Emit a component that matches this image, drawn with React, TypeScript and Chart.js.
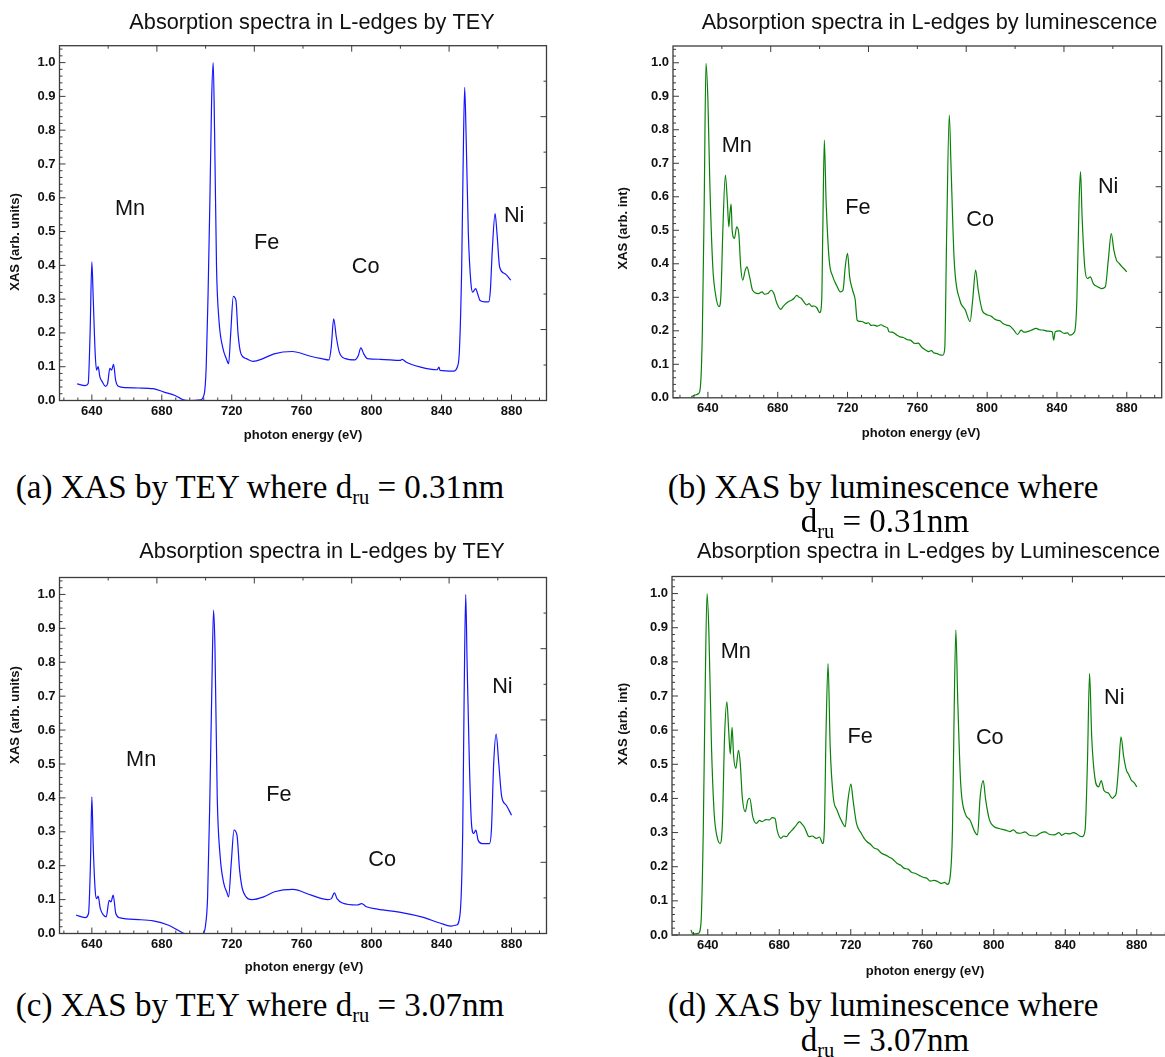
import React, { useEffect, useRef } from "react";
import { Chart, registerables } from "chart.js";

Chart.register(...registerables);

// ---------------- data ----------------
// (a) TEY, d_ru = 0.31 nm
const teyThinEnergy = [631.6, 636.2, 637.9, 639, 640, 640.8, 641.9, 642.7, 643.6, 644.6, 646, 647.8, 649, 650.3, 651.3, 652.4, 653.6, 655.1, 659.3, 666.6, 675, 681.3, 687.6, 691.8, 696, 702.2, 704.3, 705.4, 706.4, 707.5, 708.5, 709.4, 710.2, 711.3, 712.7, 714.8, 716.9, 718.2, 719.4, 720.9, 722.4, 723.6, 725.3, 728.4, 732.2, 737.9, 744.2, 754.6, 765.1, 771.4, 775.6, 776.9, 778.3, 779.8, 781.5, 785, 790.3, 792.4, 793.8, 795.5, 797.6, 805, 816.5, 817.5, 819.6, 828, 837.4, 838.5, 839.1, 846.9, 849, 850.2, 851.5, 852.3, 853.2, 854, 855.3, 856.8, 857.8, 859.5, 860.6, 862, 864.8, 866.9, 867.9, 869, 870.6, 871.7, 873.2, 876.3, 879.6];
const teyThinXAS = [0.049, 0.044, 0.05, 0.2, 0.41, 0.3, 0.14, 0.09, 0.1, 0.07, 0.055, 0.042, 0.05, 0.095, 0.09, 0.107, 0.06, 0.042, 0.038, 0.037, 0.035, 0.025, 0.015, 0.003, 0, 0.002, 0.02, 0.1, 0.3, 0.59, 0.89, 1.0, 0.79, 0.395, 0.237, 0.158, 0.124, 0.109, 0.198, 0.308, 0.296, 0.198, 0.138, 0.124, 0.116, 0.124, 0.138, 0.145, 0.131, 0.124, 0.12, 0.158, 0.242, 0.188, 0.143, 0.124, 0.12, 0.133, 0.156, 0.138, 0.124, 0.122, 0.119, 0.122, 0.114, 0.099, 0.091, 0.099, 0.089, 0.087, 0.099, 0.148, 0.395, 0.69, 0.927, 0.79, 0.494, 0.346, 0.321, 0.331, 0.316, 0.296, 0.292, 0.292, 0.326, 0.445, 0.553, 0.494, 0.395, 0.375, 0.356];

// (b) luminescence, d_ru = 0.31 nm
const lumThinEnergy = [630.4, 632.5, 634.7, 635.7, 636.8, 637.9, 638.9, 640, 641.1, 642.8, 644.3, 646.4, 647.5, 648.5, 650, 651.1, 652, 652.6, 653.3, 653.9, 655.2, 656.5, 657.7, 658.8, 659.9, 661.4, 662.4, 663.9, 665.6, 668.9, 671, 672.5, 674.2, 676.3, 677.8, 679.5, 681.7, 683, 684.9, 686.5, 688.1, 689.5, 690.9, 692, 693.4, 695, 696.6, 698, 699.5, 700.9, 702.5, 704.1, 705.2, 705.8, 706.7, 707.7, 709.5, 711.6, 713.7, 715.9, 717.4, 718.7, 720, 721.2, 722.9, 724.4, 725.5, 727, 728.7, 730.5, 732, 733.5, 735.1, 737, 739, 741.5, 743, 743.7, 745.5, 747.5, 750.1, 752, 754, 756, 758.6, 760.5, 762.5, 765, 766.5, 768, 769.5, 771.4, 773, 774.6, 775.7, 776.8, 778.3, 779.3, 781.1, 784.3, 787.5, 790.2, 791.7, 793.4, 794.9, 797.1, 799, 800.3, 802.5, 804, 805.6, 807.5, 809, 811, 813, 815.3, 817.4, 819.5, 821, 822.7, 825, 828.1, 830, 832.3, 834.5, 837.3, 838.1, 839, 841.5, 844.1, 846, 847.3, 850.1, 851.4, 852.7, 853.5, 854.4, 855.9, 857.4, 859.1, 860.8, 863.4, 865.5, 867.7, 869.4, 871.1, 872.6, 874.1, 875.5, 877.3, 878.8, 880];
const lumThinXAS = [0.003, 0.008, 0.013, 0.033, 0.192, 0.59, 0.998, 0.889, 0.64, 0.391, 0.311, 0.272, 0.311, 0.49, 0.665, 0.59, 0.51, 0.55, 0.578, 0.5, 0.476, 0.51, 0.49, 0.391, 0.351, 0.381, 0.391, 0.361, 0.321, 0.311, 0.316, 0.309, 0.311, 0.321, 0.311, 0.282, 0.264, 0.272, 0.282, 0.288, 0.292, 0.298, 0.306, 0.301, 0.297, 0.286, 0.277, 0.281, 0.273, 0.274, 0.268, 0.254, 0.292, 0.49, 0.769, 0.59, 0.411, 0.361, 0.336, 0.316, 0.321, 0.391, 0.431, 0.361, 0.321, 0.292, 0.232, 0.228, 0.227, 0.222, 0.224, 0.216, 0.217, 0.214, 0.218, 0.212, 0.208, 0.197, 0.196, 0.19, 0.182, 0.18, 0.174, 0.172, 0.162, 0.163, 0.151, 0.142, 0.138, 0.141, 0.134, 0.132, 0.128, 0.127, 0.147, 0.49, 0.844, 0.69, 0.411, 0.292, 0.262, 0.227, 0.292, 0.381, 0.321, 0.262, 0.25, 0.247, 0.243, 0.236, 0.232, 0.229, 0.222, 0.217, 0.214, 0.202, 0.189, 0.202, 0.196, 0.197, 0.201, 0.207, 0.203, 0.202, 0.199, 0.197, 0.172, 0.197, 0.2, 0.192, 0.194, 0.187, 0.197, 0.292, 0.59, 0.675, 0.54, 0.391, 0.356, 0.361, 0.341, 0.331, 0.326, 0.331, 0.411, 0.49, 0.441, 0.411, 0.402, 0.391, 0.383, 0.376];

// (c) TEY, d_ru = 3.07 nm
const teyThickEnergy = [631, 636.2, 638.1, 639.2, 640, 640.8, 641.9, 642.7, 643.6, 644.8, 646.7, 648.2, 649.9, 650.9, 652.2, 653.7, 656.2, 666.7, 675.1, 683.5, 689.8, 693, 703.5, 704.9, 706.2, 707.5, 708.7, 709.6, 710.4, 711.7, 713.4, 715.5, 717.1, 718.2, 719.7, 721.3, 723, 724.5, 726.6, 731.8, 738.2, 744.5, 755, 765.5, 775, 777, 778.7, 780.2, 783.3, 791.7, 794.3, 797, 803.3, 818, 828.5, 839, 845.3, 848.5, 850.6, 852.1, 852.9, 853.8, 854.6, 855.9, 857.1, 858.4, 859.6, 860.9, 863.2, 867.4, 868.5, 869.8, 871.2, 872.7, 874.4, 876.9, 880];
const teyThickXAS = [0.054, 0.047, 0.059, 0.206, 0.403, 0.256, 0.128, 0.103, 0.11, 0.074, 0.054, 0.049, 0.098, 0.093, 0.113, 0.059, 0.046, 0.041, 0.037, 0.025, 0.008, 0, 0, 0.02, 0.108, 0.403, 0.747, 0.954, 0.846, 0.403, 0.226, 0.147, 0.123, 0.108, 0.206, 0.305, 0.29, 0.187, 0.123, 0.1, 0.108, 0.123, 0.13, 0.113, 0.1, 0.103, 0.12, 0.103, 0.09, 0.084, 0.088, 0.079, 0.072, 0.061, 0.049, 0.031, 0.022, 0.025, 0.059, 0.305, 0.698, 1.0, 0.797, 0.502, 0.324, 0.295, 0.305, 0.275, 0.265, 0.265, 0.305, 0.502, 0.588, 0.502, 0.403, 0.379, 0.349];

// (d) luminescence, d_ru = 3.07 nm
const lumThickEnergy = [630.6, 631.6, 634.8, 636.2, 637.5, 638.5, 639.6, 640.6, 642.1, 643.6, 645.2, 646.9, 648.2, 649.4, 650.7, 651.7, 652.6, 653.6, 654.5, 655.7, 657.2, 658.2, 659.3, 661, 662.4, 663.5, 665.2, 667.2, 669, 670.4, 672.5, 674.6, 676, 677.7, 678.8, 680.9, 682.5, 684, 685.5, 687.2, 689, 691.4, 692.5, 693.9, 695, 696.6, 698.5, 700.8, 702.5, 704.3, 705.2, 706.2, 707.3, 708.5, 710.2, 712.3, 715.5, 716.9, 718.2, 720.1, 721.3, 723.2, 725.9, 727.5, 729.1, 731, 733.3, 735, 737, 739.6, 741.5, 743.5, 745.8, 748, 750, 752, 754, 756.3, 758.5, 760.5, 762.6, 764.5, 766.5, 768.9, 770.5, 772.5, 774.1, 775.6, 776.9, 777.7, 778.8, 779.8, 781.5, 784, 786.7, 789.4, 790.9, 792.4, 794.1, 795.5, 797.6, 800.3, 803, 806.6, 809, 811, 813, 815, 817.5, 820, 823.4, 826, 828.6, 831, 833.9, 836.5, 838, 840.2, 842.5, 844.5, 846.5, 848, 849.6, 851.1, 852.4, 853.6, 854.8, 856.5, 858.6, 860.1, 861.6, 863, 864.3, 865.5, 866.4, 867.5, 868.5, 870, 871.2, 872.7, 874.2, 875.5, 876.9, 878.5, 880];
const lumThickXAS = [0.015, 0.003, 0.005, 0.034, 0.307, 0.698, 1.0, 0.893, 0.551, 0.356, 0.288, 0.268, 0.327, 0.58, 0.683, 0.6, 0.53, 0.608, 0.522, 0.488, 0.541, 0.502, 0.405, 0.361, 0.395, 0.4, 0.346, 0.327, 0.336, 0.332, 0.338, 0.337, 0.344, 0.341, 0.307, 0.283, 0.29, 0.288, 0.298, 0.307, 0.318, 0.332, 0.326, 0.317, 0.305, 0.288, 0.29, 0.283, 0.287, 0.268, 0.307, 0.6, 0.795, 0.551, 0.405, 0.366, 0.327, 0.317, 0.385, 0.442, 0.395, 0.327, 0.298, 0.283, 0.273, 0.266, 0.254, 0.251, 0.24, 0.234, 0.228, 0.222, 0.21, 0.204, 0.195, 0.193, 0.184, 0.18, 0.174, 0.169, 0.166, 0.158, 0.16, 0.156, 0.151, 0.154, 0.148, 0.171, 0.307, 0.6, 0.893, 0.698, 0.444, 0.356, 0.337, 0.302, 0.293, 0.405, 0.452, 0.395, 0.337, 0.317, 0.312, 0.307, 0.303, 0.308, 0.299, 0.298, 0.302, 0.292, 0.29, 0.298, 0.302, 0.295, 0.293, 0.3, 0.292, 0.298, 0.296, 0.3, 0.296, 0.29, 0.288, 0.307, 0.502, 0.766, 0.58, 0.463, 0.434, 0.452, 0.424, 0.418, 0.415, 0.405, 0.4, 0.406, 0.415, 0.502, 0.58, 0.522, 0.483, 0.47, 0.454, 0.446, 0.434];

// tick labels and text
const xTickValues = [640, 680, 720, 760, 800, 840, 880];
const yTickValues = [0, 0.1, 0.2, 0.3, 0.4, 0.5, 0.6, 0.7, 0.8, 0.9, 1.0];
const elementNames = ["Mn", "Fe", "Co", "Ni"];
const xAxisTitle = "photon energy (eV)";

// ---------------- panel layout / style ----------------
const SANS = '"Liberation Sans", Arial, Helvetica, sans-serif';
const SERIF = '"Liberation Serif", "Times New Roman", Times, serif';
const FRAME = "#3c3c3c";
const TEXT = "#111111";

interface PanelSpec {
  left: number; top: number; w: number; h: number;
  plotL: number; plotT: number; plotR: number; plotB: number;
  xMin: number; xMax: number;
  energy: number[]; xas: number[]; color: string;
  title: string; titleX: number; titleY: number;
  yTitle: string; yTitleX: number; yTitleY: number;
  xTitleX: number; xTitleY: number;
  labelPos: [number, number][];
}

const PANELS: PanelSpec[] = [
  {
    left: 0, top: 0, w: 580, h: 450,
    plotL: 59.5, plotT: 45.7, plotR: 546.5, plotB: 400.5,
    xMin: 621.5, xMax: 900,
    energy: teyThinEnergy, xas: teyThinXAS, color: "#1414ff",
    title: "Absorption spectra in L-edges by TEY", titleX: 312, titleY: 23,
    yTitle: "XAS (arb. units)", yTitleX: 15.5, yTitleY: 242,
    xTitleX: 303, xTitleY: 435,
    labelPos: [[661.8, 0.566], [740, 0.466], [796.6, 0.395], [881.5, 0.545]],
  },
  {
    left: 580, top: 0, w: 585, h: 450,
    plotL: 93, plotT: 46, plotR: 581.7, plotB: 397.8,
    xMin: 620, xMax: 900,
    energy: lumThinEnergy, xas: lumThinXAS, color: "#0a820a",
    title: "Absorption spectra in L-edges by luminescence", titleX: 929.5, titleY: 23,
    yTitle: "XAS (arb. int)", yTitleX: 623.3, yTitleY: 228.3,
    xTitleX: 921, xTitleY: 433,
    labelPos: [[656.5, 0.752], [725.9, 0.565], [796, 0.53], [869.3, 0.63]],
  },
  {
    left: 0, top: 530, w: 580, h: 450,
    plotL: 59.5, plotT: 47.5, plotR: 546.5, plotB: 403.5,
    xMin: 621.5, xMax: 900,
    energy: teyThickEnergy, xas: teyThickXAS, color: "#1414ff",
    title: "Absorption spectra in L-edges by TEY", titleX: 322, titleY: 551.7,
    yTitle: "XAS (arb. units)", yTitleX: 15.5, yTitleY: 715,
    xTitleX: 304, xTitleY: 967.3,
    labelPos: [[668.2, 0.511], [747, 0.408], [806, 0.216], [874.8, 0.728]],
  },
  {
    left: 580, top: 530, w: 600, h: 450,
    plotL: 92, plotT: 46.5, plotR: 592.5, plotB: 405,
    xMin: 620, xMax: 900,
    energy: lumThickEnergy, xas: lumThickXAS, color: "#0a820a",
    title: "Absorption spectra in L-edges by Luminescence", titleX: 928.5, titleY: 551.7,
    yTitle: "XAS (arb. int)", yTitleX: 623.3, yTitleY: 724,
    xTitleX: 925, xTitleY: 971,
    labelPos: [[655.7, 0.829], [725.3, 0.579], [797.8, 0.576], [867.4, 0.693]],
  },
];

function makeDecor(spec: PanelSpec) {
  return {
    id: "decor",
    afterDraw(chart: any) {
      const ctx: CanvasRenderingContext2D = chart.ctx;
      const a = chart.chartArea;
      const sx = chart.scales.x, sy = chart.scales.y, sx2 = chart.scales.x2, sy2 = chart.scales.y2;
      const seg = (x1: number, y1: number, x2: number, y2: number) => {
        ctx.beginPath(); ctx.moveTo(x1, y1); ctx.lineTo(x2, y2); ctx.stroke();
      };
      ctx.save();
      ctx.strokeStyle = FRAME;
      ctx.lineWidth = 1.3;
      ctx.strokeRect(a.left, a.top, a.right - a.left, a.bottom - a.top);
      ctx.lineWidth = 1;
      // bottom: major every 40 eV, minor every 8 eV
      for (let k = Math.ceil((spec.xMin - 640) / 8); 640 + 8 * k <= spec.xMax; k++) {
        const px = sx.getPixelForValue(640 + 8 * k);
        const len = k % 5 === 0 ? 6 : 3;
        seg(px, a.bottom, px, a.bottom - len);
      }
      // left: major every 0.1, minor every 0.02
      for (let k = 0; k * 0.02 <= 1.05 + 1e-9; k++) {
        const py = sy.getPixelForValue(k * 0.02);
        const len = k % 5 === 0 ? 6 : 3;
        seg(a.left, py, a.left + len, py);
      }
      // top and right (secondary frame scales)
      for (let k = 1; k < 10; k++) {
        const len = k % 2 === 0 ? 6 : 3;
        const px = sx2.getPixelForValue(k / 10);
        seg(px, a.top, px, a.top + len);
        const py = sy2.getPixelForValue(k / 10);
        seg(a.right, py, a.right - len, py);
      }
      // texts
      ctx.fillStyle = TEXT;
      ctx.textAlign = "center";
      ctx.textBaseline = "middle";
      ctx.font = `21.7px ${SANS}`;
      ctx.fillText(spec.title, spec.titleX - spec.left, spec.titleY - spec.top);
      elementNames.forEach((name, i) => {
        const [ex, ey] = spec.labelPos[i];
        ctx.fillText(name, sx.getPixelForValue(ex), sy.getPixelForValue(ey));
      });
      ctx.font = `bold 13px ${SANS}`;
      ctx.fillText(xAxisTitle, spec.xTitleX - spec.left, spec.xTitleY - spec.top);
      ctx.translate(spec.yTitleX - spec.left, spec.yTitleY - spec.top);
      ctx.rotate(-Math.PI / 2);
      ctx.fillText(spec.yTitle, 0, 0);
      ctx.restore();
    },
  };
}

function Panel({ spec }: { spec: PanelSpec }) {
  const ref = useRef<HTMLCanvasElement | null>(null);
  useEffect(() => {
    if (!ref.current) return;
    const bottomAxisH = 30;
    const chart = new Chart(ref.current, {
      type: "line",
      data: {
        datasets: [
          {
            data: spec.energy.map((e, i) => ({ x: e, y: spec.xas[i] })),
            borderColor: spec.color,
            borderWidth: 1.2,
            pointRadius: 0,
            fill: false,
            cubicInterpolationMode: "monotone",
          },
        ],
      },
      options: {
        animation: false,
        responsive: false,
        maintainAspectRatio: false,
        devicePixelRatio: 1,
        events: [],
        layout: {
          padding: {
            left: 0,
            top: spec.plotT,
            right: spec.w - spec.plotR,
            bottom: spec.h - spec.plotB - bottomAxisH,
          },
        },
        plugins: { legend: { display: false }, tooltip: { enabled: false }, title: { display: false } },
        scales: {
          x: {
            type: "linear",
            position: "bottom",
            min: spec.xMin,
            max: spec.xMax,
            afterFit: (s: any) => { s.height = bottomAxisH; },
            afterBuildTicks: (s: any) => { s.ticks = xTickValues.map((v) => ({ value: v })); },
            ticks: {
              autoSkip: false, maxRotation: 0, padding: 3, color: TEXT,
              font: { family: SANS, size: 13, weight: "bold" },
              callback: (v: any) => String(v),
            },
            grid: { display: false, drawTicks: false },
            border: { display: false },
          },
          y: {
            type: "linear",
            position: "left",
            min: 0,
            max: 1.05,
            afterFit: (s: any) => { s.width = spec.plotL; },
            afterBuildTicks: (s: any) => { s.ticks = yTickValues.map((v) => ({ value: v })); },
            ticks: {
              autoSkip: false, padding: 4, color: TEXT,
              font: { family: SANS, size: 13, weight: "bold" },
              callback: (v: any) => Number(v).toFixed(1),
            },
            grid: { display: false, drawTicks: false },
            border: { display: false },
          },
          x2: {
            type: "linear", position: "top", min: 0, max: 1,
            afterFit: (s: any) => { s.height = 0; },
            ticks: { display: false }, grid: { display: false, drawTicks: false }, border: { display: false },
          },
          y2: {
            type: "linear", position: "right", min: 0, max: 1,
            afterFit: (s: any) => { s.width = 0; },
            ticks: { display: false }, grid: { display: false, drawTicks: false }, border: { display: false },
          },
        },
      } as any,
      plugins: [makeDecor(spec)],
    });
    return () => chart.destroy();
  }, [spec]);
  return (
    <canvas
      ref={ref}
      width={spec.w}
      height={spec.h}
      style={{ position: "absolute", left: spec.left, top: spec.top, width: spec.w, height: spec.h }}
    />
  );
}

const captionStyle: React.CSSProperties = {
  position: "absolute",
  fontFamily: SERIF,
  fontSize: 33,
  lineHeight: "34px",
  color: "#000",
  whiteSpace: "nowrap",
  transform: "translate(-50%, -50%)",
};
const subStyle: React.CSSProperties = { fontSize: "0.62em", verticalAlign: "-0.28em", lineHeight: 0 };

function Dru() {
  return (
    <>
      d<span style={subStyle}>ru</span>
    </>
  );
}

export default function App() {
  return (
    <div style={{ position: "absolute", left: 0, top: 0, width: 1165, height: 1057, overflow: "hidden", background: "#fff" }}>
      {PANELS.map((p, i) => (
        <Panel key={i} spec={p} />
      ))}
      <div style={{ ...captionStyle, left: 260, top: 487 }}>(a) XAS by TEY where <Dru /> = 0.31nm</div>
      <div style={{ ...captionStyle, left: 883, top: 487 }}>(b) XAS by luminescence where</div>
      <div style={{ ...captionStyle, left: 885, top: 521 }}><Dru /> = 0.31nm</div>
      <div style={{ ...captionStyle, left: 260, top: 1005 }}>(c) XAS by TEY where <Dru /> = 3.07nm</div>
      <div style={{ ...captionStyle, left: 883, top: 1005 }}>(d) XAS by luminescence where</div>
      <div style={{ ...captionStyle, left: 885, top: 1040 }}><Dru /> = 3.07nm</div>
    </div>
  );
}
